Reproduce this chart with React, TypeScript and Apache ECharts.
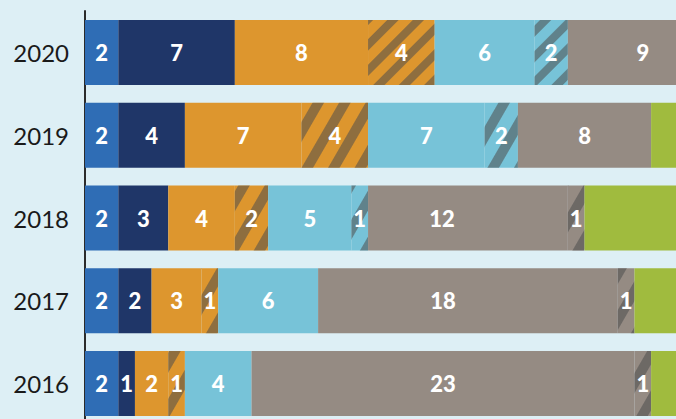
import React, { useEffect, useRef } from 'react';
import * as echarts from 'echarts';

// Categories (top to bottom)
const years = ['2020', '2019', '2018', '2017', '2016'];

// Series values per year (same order as years)
const blue = [2, 2, 2, 2, 2];
const navy = [7, 4, 3, 2, 1];
const orange = [8, 7, 4, 3, 2];
const orangeHatched = [4, 4, 2, 1, 1];
const lightBlue = [6, 7, 5, 6, 4];
const lightBlueHatched = [2, 2, 1, 0, 0];
const grey = [9, 8, 12, 18, 23];
const greyHatched = [0, 0, 1, 1, 1];
const green = [3, 3, 8, 5, 4];

// Styles
const BG = '#ddeff5';
const HATCH = 'rgba(77,77,77,0.55)';
const hatchAngleDeg = [45, 60, 60, 60, 60];
const hatchDash = [[8, 10], [10, 13], [10, 13], [10, 13], [10, 13]];
const greyLabelShift = [0, 0, -26, -25, 0];
const FONT = 'Lato, "Open Sans", sans-serif';

function makeSeries(
  name: string,
  values: number[],
  color: string,
  hatched: boolean,
  showLabel = true,
  labelShift?: number[]
) {
  return {
    name,
    type: 'bar',
    stack: 'total',
    barWidth: 65,
    clip: false,
    itemStyle: { color },
    emphasis: { disabled: true },
    label: {
      show: showLabel,
      position: 'inside',
      color: '#ffffff',
      fontSize: 22,
      fontWeight: 900,
      fontFamily: FONT,
      formatter: (p: any) => (p.value ? String(p.value) : ''),
    },
    data: values.map((v, i) => {
      const item: any = { value: v };
      if (hatched) {
        item.itemStyle = {
          color,
          decal: {
            symbol: 'rect',
            symbolSize: 1,
            color: HATCH,
            dashArrayX: [1, 0],
            dashArrayY: hatchDash[i],
            rotation: (-hatchAngleDeg[i] * Math.PI) / 180,
          },
        };
      }
      if (labelShift && labelShift[i]) {
        item.label = { offset: [labelShift[i], 0] };
      }
      return item;
    }),
  };
}

export default function App() {
  const ref = useRef<HTMLDivElement>(null);
  useEffect(() => {
    if (!ref.current) return;
    const chart = echarts.init(ref.current, undefined, { renderer: 'svg' });
    chart.setOption({
      animation: false,
      backgroundColor: BG,
      grid: { left: 85, top: 11, width: 832.5, height: 414, containLabel: false },
      xAxis: { type: 'value', min: 0, max: 50, show: false },
      yAxis: {
        type: 'category',
        inverse: true,
        data: years,
        axisLine: { show: true, lineStyle: { color: '#2b2b2b', width: 2 } },
        axisTick: { show: false },
        axisLabel: { color: '#1a1a1a', fontSize: 24, fontFamily: FONT, margin: 16 },
        splitLine: { show: false },
      },
      series: [
        makeSeries('blue', blue, '#2f6db5', false),
        makeSeries('navy', navy, '#1f3668', false),
        makeSeries('orange', orange, '#dd962e', false),
        makeSeries('orangeHatched', orangeHatched, '#dd962e', true),
        makeSeries('lightBlue', lightBlue, '#77c3d8', false),
        makeSeries('lightBlueHatched', lightBlueHatched, '#77c3d8', true),
        makeSeries('grey', grey, '#958b83', false, true, greyLabelShift),
        makeSeries('greyHatched', greyHatched, '#958b83', true),
        makeSeries('green', green, '#a0bb3e', false, false),
      ],
    });
    return () => chart.dispose();
  }, []);
  return (
    <div style={{ position: 'fixed', left: 0, top: 0, width: 676, height: 419, overflow: 'hidden', background: BG }}>
      <div ref={ref} style={{ width: 1000, height: 440 }} />
    </div>
  );
}
